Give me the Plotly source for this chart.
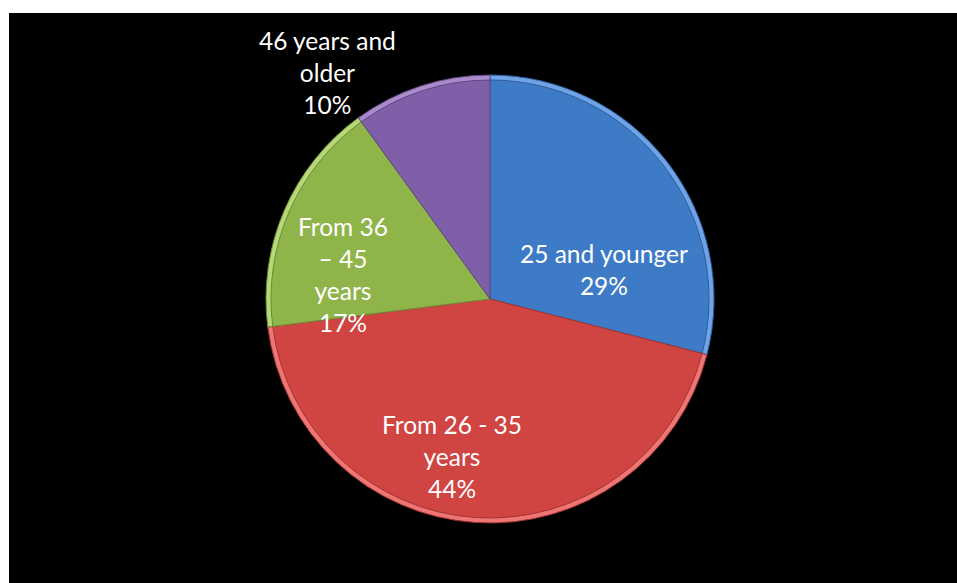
import plotly.graph_objects as go

# Age groups and their shares (percent)
labels = ["25 and younger", "From 26 - 35 years", "From 36 – 45 years", "46 years and older"]
label_lines = ["25 and younger", "From 26 - 35<br>years", "From 36<br>– 45<br>years", "46 years and<br>older"]
values = [29, 44, 17, 10]

base_colors = ["#3D7BC6", "#D04442", "#8FB44A", "#7F60A8"]
rim_colors = ["#6FA3E6", "#EE7573", "#B6D878", "#A98BCC"]
edge_colors = ["#2C5E9C", "#A33431", "#6C8C33", "#5F4682"]

W, H = 957, 583
cx, cy, r = 490, 299, 224


def domain(radius):
    return dict(
        x=[(cx - radius) / W, (cx + radius) / W],
        y=[(H - cy - radius) / H, (H - cy + radius) / H],
    )


fig = go.Figure()

# Lighter rim gives the bevelled edge
fig.add_trace(go.Pie(
    labels=labels, values=values, sort=False, direction="clockwise", rotation=0,
    marker=dict(colors=rim_colors, line=dict(color=edge_colors, width=1)),
    textinfo="none", hoverinfo="skip", showlegend=False, domain=domain(r),
))
# Main slices
fig.add_trace(go.Pie(
    labels=labels, values=values, sort=False, direction="clockwise", rotation=0,
    marker=dict(colors=base_colors, line=dict(color=edge_colors, width=1)),
    textinfo="none", showlegend=False, domain=domain(r - 5),
))

# Data labels
label_pos = [(604, 269), (452, 456), (343, 274), (327, 72)]
annotations = []
for text, v, (x, y) in zip(label_lines, values, label_pos):
    annotations.append(dict(
        x=x / W, y=(H - y) / H, xref="paper", yref="paper",
        text=f"{text}<br>{v}%", showarrow=False, align="center",
        xanchor="center", yanchor="middle",
        font=dict(family="Lato, 'Open Sans', sans-serif", size=24.5, color="white"),
    ))

fig.update_layout(
    width=W, height=H,
    margin=dict(l=0, r=0, t=0, b=0),
    paper_bgcolor="white", plot_bgcolor="white",
    shapes=[dict(type="rect", xref="paper", yref="paper", x0=9 / W, x1=1, y0=0, y1=(H - 13) / H,
                 fillcolor="black", line=dict(width=0), layer="below")],
    annotations=annotations,
)

fig.write_html("out.html")
